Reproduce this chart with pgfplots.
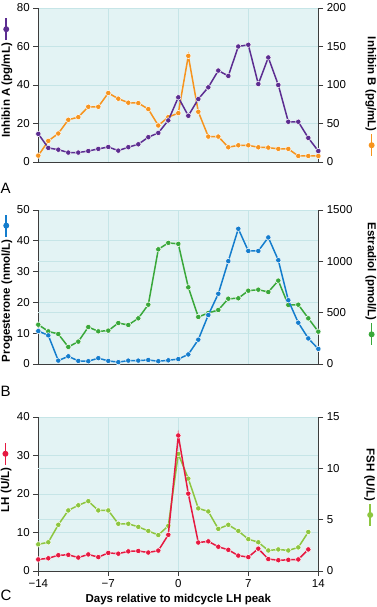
\documentclass[border=0pt]{standalone}
\usepackage{pgfplots}
\usepackage{pgfplotstable}
\pgfplotsset{compat=1.18}
\usepackage{fontspec}
\setmainfont{Liberation Sans}

\definecolor{bgc}{RGB}{227,243,244}
\definecolor{gridc}{RGB}{198,229,231}
\definecolor{axgray}{RGB}{60,60,60}
\definecolor{purp}{RGB}{92,45,145}
\definecolor{orng}{RGB}{247,148,30}
\definecolor{blu}{RGB}{20,125,205}
\definecolor{grn}{RGB}{57,168,58}
\definecolor{redc}{RGB}{230,25,65}
\definecolor{lime}{RGB}{141,198,63}

\newcommand{\legsym}[1]{\tikz[baseline=-0.6ex]{\path[draw=#1,line width=1.6pt](0,0)--(22pt,0);\path[fill=#1](11pt,0)circle(3pt);}}

\pgfplotstableread{
d a b
-14 14.6 8.3
-13 7.3 27.4
-12 6.4 37.0
-11 4.9 54.8
-10 4.9 58.3
-9 5.7 71.7
-8 6.8 71.7
-7 7.8 89.6
-6 5.9 82.2
-5 7.7 77.0
-4 9.2 76.5
-3 12.9 68.7
-2 15.1 47.4
-1 21.6 58.3
0 33.6 63.5
1 24.0 137.8
2 32.7 65.2
3 38.8 33.0
4 47.5 33.0
5 44.7 19.1
6 60.0 21.7
7 60.9 21.7
8 40.5 19.1
9 54.3 18.7
10 40.0 17.0
11 20.9 17.0
12 20.9 7.8
13 12.5 7.8
14 5.7 7.8
}\tabA

\pgfplotstableread{
d a b
-14 10.7 383
-13 9.3 318
-12 1.1 292
-11 2.5 166
-10 1.0 218
-9 0.9 360
-8 1.9 318
-7 1.0 325
-6 0.6 399
-5 1.1 380
-4 1.1 445
-3 1.3 578
-2 0.9 1117
-1 1.2 1180
0 1.6 1170
1 3.1 747
2 7.9 458
3 15.9 497
4 22.8 526
5 33.4 636
6 43.9 640
7 36.7 714
8 36.7 724
9 41.1 701
10 33.7 812
11 20.7 575
12 13.4 578
13 8.3 445
14 4.9 315
}\tabB

\pgfplotstableread{
d a b
-14 3.0 2.6
-13 3.3 2.8
-12 4.1 4.5
-11 4.2 5.9
-10 3.5 6.4
-9 4.3 6.8
-8 3.6 5.9
-7 4.7 5.9
-6 4.5 4.6
-5 5.1 4.6
-4 5.2 4.3
-3 4.8 3.9
-2 5.3 3.5
-1 9.4 4.4
0 35.2 11.4
1 20.1 9.0
2 7.4 6.1
3 7.7 5.8
4 6.3 4.1
5 5.5 4.5
6 4.0 3.9
7 3.6 3.1
8 5.8 2.8
9 3.1 2.0
10 2.8 2.1
11 2.9 2.0
12 3.0 2.3
13 5.6 3.8
}\tabC

\pgfplotsset{
  base/.style={scale only axis, width=280pt, height=154pt, xmin=-14, xmax=14, anchor=south west,
    tick label style={font=\fontsize{11.5}{13}\selectfont, text=black},
    label style={font=\bfseries\fontsize{11.5}{13}\selectfont},
    /pgf/number format/assume math mode=true, /pgf/number format/1000 sep={},
    axis line style={draw=axgray, line width=0.8pt},
    tick style={draw=axgray, line width=0.8pt}, major tick length=5pt, tick align=outside},
  gridax/.style={axis background/.style={fill=bgc}, grid=major, grid style={draw=gridc, line width=0.7pt},
    axis x line*=bottom, axis y line*=left, xtick={-14,-7,0,7,14}},
  rightax/.style={axis y line*=right, axis x line=none, clip=false},
  ser/.style={color=#1, line width=1.5pt, mark=*, mark size=2.7pt, mark options={draw=white, line width=0.5pt, fill=#1}},
}

\begin{document}
\begin{tikzpicture}
% ---------- Panel A ----------
\begin{axis}[base, gridax, at={(38.3pt,445pt)}, ymin=0, ymax=80, ytick={0,20,40,60,80},
  xticklabels={}, x tick style={draw=none},
  ylabel={Inhibin A (pg/mL)\,\legsym{purp}},
  ylabel style={at={(axis description cs:-0.112,0.549)}, anchor=center}]
\addplot[draw=none] coordinates {(0,0)};
\end{axis}
\begin{axis}[base, rightax, at={(38.3pt,445pt)}, ymin=0, ymax=200, ytick={0,50,100,150,200},
  ylabel={Inhibin B (pg/mL)\,\legsym{orng}},
  ylabel style={at={(axis description cs:1.188,0.422)}, anchor=center, rotate=180}]
\addplot[ser=orng] table[x=d,y=b] {\tabA};
\end{axis}
\begin{axis}[base, at={(38.3pt,445pt)}, ymin=0, ymax=80, hide axis, clip=false]
\addplot[ser=purp] table[x=d,y=a] {\tabA};
\end{axis}

% ---------- Panel B ----------
\begin{axis}[base, gridax, at={(38.3pt,243pt)}, ymin=0, ymax=50, ytick={0,10,20,30,40,50},
  extra y ticks={16.667,33.333}, extra y tick labels={}, extra y tick style={major tick length=0pt},
  xticklabels={}, x tick style={draw=none},
  ylabel={Progesterone (nmol/L)\,\legsym{blu}},
  ylabel style={at={(axis description cs:-0.112,0.494)}, anchor=center}]
\addplot[draw=none] coordinates {(0,0)};
\end{axis}
\begin{axis}[base, rightax, at={(38.3pt,243pt)}, ymin=0, ymax=1500, ytick={0,500,1000,1500},
  ylabel={Estradiol (pmol/L)\,\legsym{grn}},
  ylabel style={at={(axis description cs:1.188,0.516)}, anchor=center, rotate=180}]
\addplot[ser=grn] table[x=d,y=b] {\tabB};
\end{axis}
\begin{axis}[base, at={(38.3pt,243pt)}, ymin=0, ymax=50, hide axis, clip=false]
\addplot[ser=blu] table[x=d,y=a] {\tabB};
\end{axis}

% ---------- Panel C ----------
\begin{axis}[base, gridax, at={(38.3pt,36pt)}, ymin=0, ymax=40, ytick={0,10,20,30,40},
  extra y ticks={13.333,26.667}, extra y tick labels={}, extra y tick style={major tick length=0pt},
  xticklabels={−14,−7,0,7,14},
  xlabel={Days relative to midcycle LH peak},
  xlabel style={at={(axis description cs:0.5,-0.188)}, anchor=center},
  ylabel={LH (U/L)\,\legsym{redc}},
  ylabel style={at={(axis description cs:-0.115,0.61)}, anchor=center}]
\addplot[draw=none] coordinates {(0,0)};
\end{axis}
\begin{axis}[base, rightax, at={(38.3pt,36pt)}, ymin=0, ymax=15, ytick={0,5,10,15},
  ylabel={FSH (U/L)\,\legsym{lime}},
  ylabel style={at={(axis description cs:1.183,0.54)}, anchor=center, rotate=180}]
\addplot[ser=lime] table[x=d,y=b] {\tabC};
\end{axis}
\begin{axis}[base, at={(38.3pt,36pt)}, ymin=0, ymax=40, hide axis, clip=false]
\addplot[ser=redc] table[x=d,y=a] {\tabC};
\end{axis}

% panel letters
\node[anchor=west, inner sep=0pt, font=\fontsize{15}{17}\selectfont] at (0.5pt,419pt) {A};
\node[anchor=west, inner sep=0pt, font=\fontsize{15}{17}\selectfont] at (0.5pt,216pt) {B};
\node[anchor=west, inner sep=0pt, font=\fontsize{15}{17}\selectfont] at (0.5pt,12pt) {C};

\pgfresetboundingbox
\path (0,0) rectangle (376pt,607pt);
\end{tikzpicture}
\end{document}
